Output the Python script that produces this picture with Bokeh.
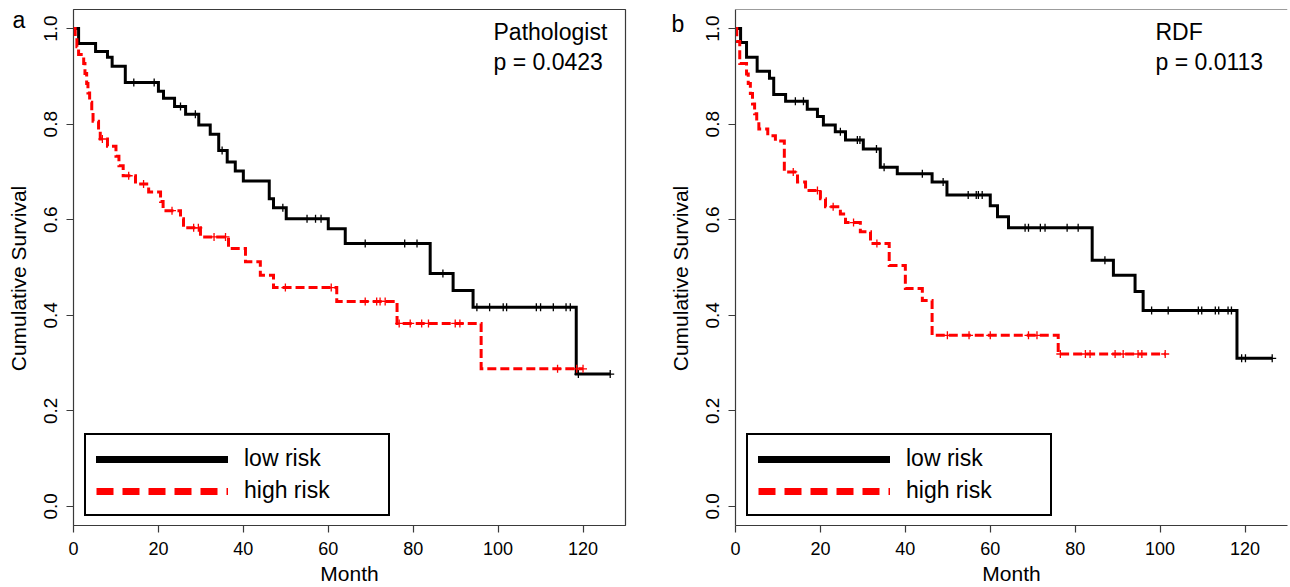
import math
from bokeh.plotting import figure
from bokeh.layouts import row
from bokeh.models import Label, Legend, LegendItem, FixedTicker, Span, Range1d, ColumnDataSource
from bokeh.embed import file_html
from bokeh.resources import INLINE

FONT = "Liberation Sans"
H = 587

month_ticks = [0, 20, 40, 60, 80, 100, 120]
surv_ticks = [0.0, 0.2, 0.4, 0.6, 0.8, 1.0]
surv_tick_labels = ["0.0", "0.2", "0.4", "0.6", "0.8", "1.0"]
series_names = ["low risk", "high risk"]
x_title = "Month"
y_title = "Cumulative Survival"

# ---------------- Panel a: Pathologist ----------------
a_label = "a"
a_method = "Pathologist"
a_pvalue = "p = 0.0423"

a_low_event_t = [1.2, 5.2, 8.0, 9.1, 12.2, 20.0, 21.2, 23.8, 26.4, 29.5, 32.2, 34.2, 36.2,
                 38.1, 40.0, 46.1, 47.1, 50.1, 60.0, 64.0, 84.0, 89.4, 94.1, 118.4]
a_low_event_s = [0.969, 0.952, 0.940, 0.921, 0.887, 0.869, 0.854, 0.837, 0.821, 0.798, 0.779,
                 0.745, 0.721, 0.702, 0.681, 0.644, 0.625, 0.602, 0.581, 0.550, 0.4875, 0.452,
                 0.417, 0.277]
a_low_censor_t = [14.2, 19.0, 25.2, 28.7, 35.0, 49.3, 55.0, 57.0, 58.3, 68.7, 78.0, 80.9, 87.0,
                  95.0, 98.0, 101.2, 102.0, 109.0, 110.0, 113.0, 116.0, 117.0, 118.9, 126.4]

a_high_event_t = [0.4, 0.8, 1.2, 2.4, 2.7, 3.1, 3.4, 3.8, 4.3, 4.6, 5.9, 6.3, 8.0, 10.0, 10.7,
                  11.7, 14.6, 17.7, 20.5, 21.1, 25.2, 25.9, 29.9, 36.5, 40.5, 44.0, 47.1, 62.0,
                  76.2, 96.0]
a_high_event_s = [0.980, 0.962, 0.946, 0.927, 0.906, 0.885, 0.865, 0.846, 0.827, 0.806, 0.788,
                  0.769, 0.754, 0.733, 0.713, 0.692, 0.675, 0.658, 0.638, 0.619, 0.602, 0.583,
                  0.564, 0.540, 0.512, 0.484, 0.458, 0.429, 0.383, 0.288]
a_high_censor_t = [6.8, 13.0, 16.5, 23.2, 28.3, 29.4, 33.1, 35.8, 49.9, 60.7, 68.7, 71.4, 72.2,
                   73.4, 76.7, 79.3, 82.0, 83.6, 89.9, 91.0, 114.0, 118.5, 120.0]

# ---------------- Panel b: RDF ----------------
b_label = "b"
b_method = "RDF"
b_pvalue = "p = 0.0113"

b_low_event_t = [1.2, 2.6, 5.1, 8.0, 9.0, 11.8, 16.9, 19.3, 20.7, 23.5, 25.9, 30.1, 34.1, 38.1,
                 46.3, 49.8, 60.0, 61.7, 64.3, 84.0, 89.0, 94.1, 96.0, 118.1]
b_low_event_s = [0.971, 0.940, 0.911, 0.896, 0.862, 0.848, 0.831, 0.816, 0.798, 0.784, 0.767,
                 0.748, 0.710, 0.696, 0.679, 0.652, 0.629, 0.606, 0.583, 0.515, 0.484, 0.450,
                 0.410, 0.310]
b_low_censor_t = [14.1, 16.0, 24.7, 28.7, 29.3, 33.2, 35.0, 44.0, 48.9, 54.8, 56.7, 57.2, 58.1,
                  68.2, 69.0, 71.8, 72.9, 78.1, 80.7, 87.0, 98.0, 101.9, 109.0, 109.8, 113.0,
                  113.8, 116.0, 116.8, 119.2, 120.1, 126.4]

b_high_event_t = [0.3, 1.0, 2.6, 3.0, 3.5, 4.0, 4.5, 5.0, 5.5, 7.6, 9.4, 11.5, 14.6, 16.5,
                  20.0, 21.2, 24.7, 25.9, 29.4, 31.8, 36.2, 40.0, 44.0, 46.3, 76.0]
b_high_event_s = [0.973, 0.927, 0.905, 0.885, 0.864, 0.842, 0.822, 0.806, 0.790, 0.776, 0.765,
                  0.700, 0.679, 0.661, 0.644, 0.627, 0.612, 0.594, 0.575, 0.550, 0.504, 0.456,
                  0.431, 0.358, 0.319]
b_high_censor_t = [13.6, 19.3, 23.0, 27.8, 33.3, 49.9, 55.0, 60.0, 69.0, 71.0, 76.5, 82.4, 83.5,
                   89.4, 91.3, 94.8, 95.7, 101.2]


def surv_at(event_t, event_s, t):
    s = 1.0
    for te, se in zip(event_t, event_s):
        if te <= t:
            s = se
    return s


def add_curve(p, event_t, event_s, censor_t, color, dash, width):
    end_t = max(censor_t + event_t)
    xs = [0.0] + list(event_t) + [end_t]
    ys = [1.0] + list(event_s) + [event_s[-1]]
    p.step(x=xs, y=ys, mode="after", line_color=color, line_width=width,
           line_dash=dash, line_join="miter")
    cy = [surv_at(event_t, event_s, t) for t in censor_t]
    p.scatter(x=censor_t, y=cy, marker="cross", size=8, line_color=color, line_width=1.3)


def make_strip(width, letter, letter_x, letter_y, title_x):
    """Narrow text column left of a panel: panel letter and the y-axis title.
    Its frame is aligned with the neighbouring panel's frame (top 9, bottom 527)."""
    s = figure(width=width, height=H, x_range=Range1d(0, 1), y_range=Range1d(0, 1),
               output_backend="svg", toolbar_location=None,
               x_axis_type=None, y_axis_type=None,
               min_border_left=0, min_border_right=0, min_border_top=9, min_border_bottom=60)
    s.outline_line_color = None
    s.background_fill_color = "white"
    s.border_fill_color = "white"
    s.add_layout(Label(x=letter_x, y=letter_y, x_units="screen", y_units="screen", text=letter,
                       text_baseline="alphabetic",
                       text_font=FONT, text_font_size="23px", text_color="black"))
    s.add_layout(Label(x=title_x, y=247, x_units="screen", y_units="screen", text=y_title,
                       angle=math.pi / 2, text_align="center", text_baseline="middle",
                       text_font=FONT, text_font_size="21px", text_color="black"))
    return s


def make_panel(method, pvalue, low, high, width, border_left, border_right, full_box):
    p = figure(width=width, height=H, x_range=Range1d(0, 130), y_range=Range1d(-0.04, 1.04),
               output_backend="svg", toolbar_location=None,
               min_border_left=border_left, min_border_right=border_right,
               min_border_top=9, min_border_bottom=60)
    p.grid.visible = False
    p.background_fill_color = "white"
    p.border_fill_color = "white"

    box_color = "#3a3a3a"
    if full_box:
        p.outline_line_color = box_color
        p.outline_line_width = 1.2
        p.outline_line_alpha = 1.0
        p.xaxis.axis_line_color = None
        p.yaxis.axis_line_color = None
    else:
        p.outline_line_color = None
        p.xaxis.axis_line_color = box_color
        p.yaxis.axis_line_color = box_color
        p.xaxis.axis_line_width = 1.2
        p.yaxis.axis_line_width = 1.2
        p.add_layout(Span(location=p.y_range.end, dimension="width",
                          line_color=box_color, line_width=1.2))

    p.xaxis.ticker = FixedTicker(ticks=month_ticks)
    p.yaxis.ticker = FixedTicker(ticks=surv_ticks)
    p.yaxis.major_label_overrides = {t: l for t, l in zip(surv_ticks, surv_tick_labels)}
    p.yaxis.major_label_orientation = "vertical"
    for ax in (p.xaxis, p.yaxis):
        ax.minor_tick_line_color = None
        ax.major_tick_out = 7
        ax.major_tick_in = 0
        ax.major_tick_line_color = box_color
        ax.major_tick_line_width = 1.2
        ax.major_label_text_font = FONT
        ax.major_label_text_color = "black"
    p.xaxis.major_label_text_font_size = "18px"
    p.yaxis.major_label_text_font_size = "19px"
    p.xaxis.axis_label = x_title
    p.xaxis.axis_label_text_font = FONT
    p.xaxis.axis_label_text_font_size = "21px"
    p.xaxis.axis_label_text_font_style = "normal"
    p.xaxis.axis_label_text_color = "black"
    p.xaxis.major_label_standoff = 9
    p.xaxis.axis_label_standoff = 4
    p.yaxis.major_label_standoff = 9

    add_curve(p, low[0], low[1], low[2], "black", "solid", 3)
    add_curve(p, high[0], high[1], high[2], "#FF0000", "9 4", 3)

    # legend-only renderers (no visible data) with thicker strokes, as in the original legend
    src = ColumnDataSource(data=dict(x=[float("nan")], y=[float("nan")]))
    r_low = p.line(x="x", y="y", source=src, line_color="black", line_width=7,
                   line_cap="round")
    r_high = p.line(x="x", y="y", source=src, line_color="#FF0000", line_width=7,
                    line_dash="17 9")
    legend = Legend(items=[LegendItem(label=series_names[0], renderers=[r_low]),
                           LegendItem(label=series_names[1], renderers=[r_high])],
                    location=(11, 9), margin=0, padding=10, spacing=5,
                    glyph_width=132, glyph_height=26, label_height=26,
                    label_standoff=16, label_width=134,
                    label_text_font=FONT, label_text_font_size="23px",
                    label_text_color="black",
                    border_line_color="black", border_line_width=2, border_line_alpha=1.0,
                    background_fill_color="white", background_fill_alpha=1.0)
    p.add_layout(legend, "center")

    p.add_layout(Label(x=420, y=494, x_units="screen", y_units="screen", text=method,
                       text_baseline="alphabetic",
                       text_font=FONT, text_font_size="23px", text_color="black"))
    p.add_layout(Label(x=420, y=464, x_units="screen", y_units="screen", text=pvalue,
                       text_baseline="alphabetic",
                       text_font=FONT, text_font_size="23px", text_color="black"))
    return p


strip_a = make_strip(30, a_label, 12, 506, 18)
pa = make_panel(a_method, a_pvalue,
                (a_low_event_t, a_low_event_s, a_low_censor_t),
                (a_high_event_t, a_high_event_s, a_high_censor_t),
                width=597, border_left=43, border_right=2, full_box=True)
strip_b = make_strip(65, b_label, 44, 502, 53)
pb = make_panel(b_method, b_pvalue,
                (b_low_event_t, b_low_event_s, b_low_censor_t),
                (b_high_event_t, b_high_event_s, b_high_censor_t),
                width=598, border_left=43, border_right=3, full_box=False)

layout = row(strip_a, pa, strip_b, pb)
open("out.html", "w").write(file_html(layout, INLINE))
